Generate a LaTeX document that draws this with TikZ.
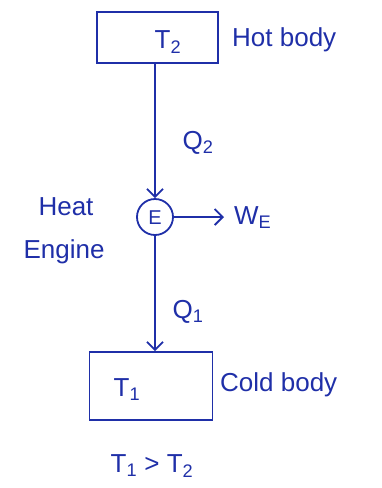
\documentclass[tikz,border=0pt]{standalone}
\usepackage{fontspec}
\setmainfont{Liberation Sans}
\usetikzlibrary{arrows.meta}
\definecolor{ink}{HTML}{1F2FA8}
\tikzset{
  ink/.style={draw=ink, line width=1.8pt},
  body/.style={ink, rectangle, minimum width=121pt, minimum height=51pt, inner sep=0pt},
  lbl/.style={text=ink, font=\fontsize{26}{28}\selectfont, inner sep=0pt},
  flow/.style={ink, -{Straight Barb[length=8pt,width=16pt]}}
}
\begin{document}
\begin{tikzpicture}[x=1pt,y=-1pt]
\useasboundingbox (0,0) rectangle (381,488);
\node[body] (hot) at (157.5,37.5) {};
\node[lbl] (t2) at (168,42) {T\textsubscript{2}};
\node[lbl, anchor=west] (hotl) at (232,40) {Hot body};
\node[ink, circle, minimum size=36pt, inner sep=0pt] (E) at (155,217) {};
\node[lbl, font=\fontsize{20}{22}\selectfont] (e) at (155,218) {E};
\node[body, minimum width=123pt, minimum height=68pt] (cold) at (151,386) {};
\node[lbl] (t1) at (127,390) {T\textsubscript{1}};
\node[lbl, anchor=west] (coldl) at (220,385) {Cold body};
\node[lbl] (q2) at (198,143) {Q\textsubscript{2}};
\node[lbl] (q1) at (188,312) {Q\textsubscript{1}};
\node[lbl, anchor=west] (we) at (234,218) {W\textsubscript{E}};
\node[lbl] (heat) at (66,207) {Heat};
\node[lbl] (engine) at (64,252) {Engine};
\node[lbl] (cmp) at (152,466) {T\textsubscript{1} > T\textsubscript{2}};
\coordinate (wend) at (224,217);
\draw[flow] (E.north |- hot.south) -- (E.north);
\draw[flow] (E.south) -- (E.south |- cold.north);
\draw[flow] (E.east) -- (wend);
\end{tikzpicture}
\end{document}
